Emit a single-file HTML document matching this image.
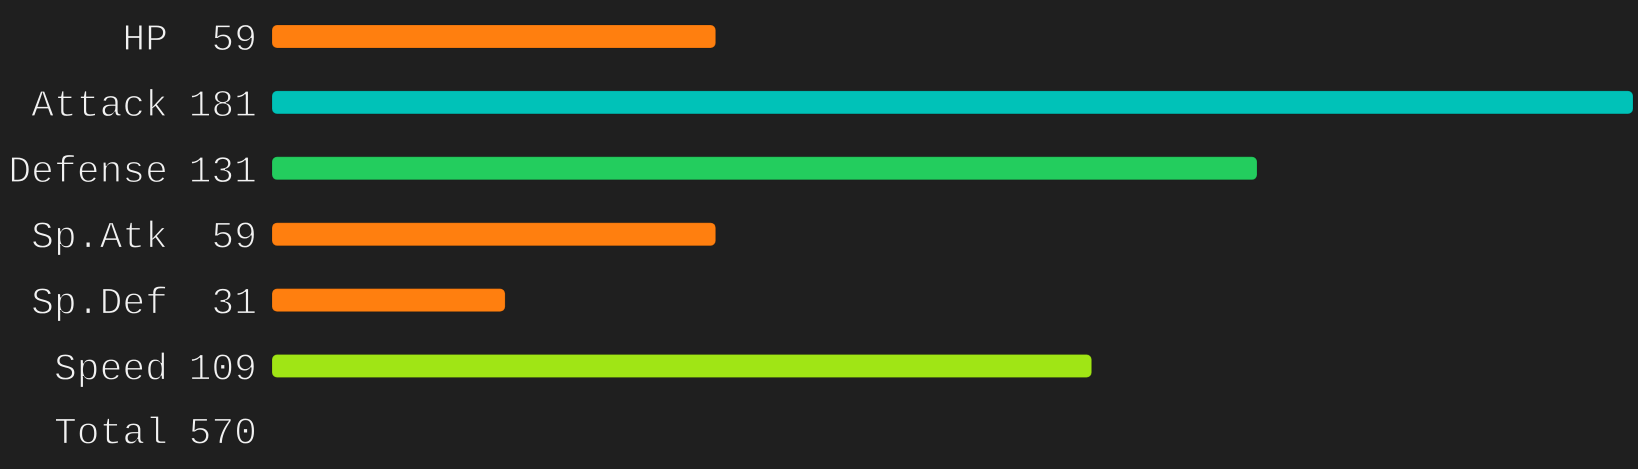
<!DOCTYPE html>
<html><head><meta charset="utf-8"><style>
html,body{margin:0;padding:0;background:#1f1f1f;}
svg{display:block;}
text{font-family:"Liberation Mono",monospace;font-size:38px;fill:#f2f2f2;stroke:#1f1f1f;stroke-width:1.2px;}
</style></head><body>
<svg id="chart" width="1638" height="469" viewBox="0 0 1638 469">
<rect width="1638" height="469" fill="#1f1f1f"/>
</svg>
<script>
const categories=["HP","Attack","Defense","Sp.Atk","Sp.Def","Speed"];
const values=[59,181,131,59,31,109];
const colors=["#ff7f0f","#00c2b8","#23cd5e","#ff7f0f","#ff7f0f","#a0e515"];
const totalLabel="Total";
const totalValue=570;
const svg=document.getElementById('chart');
const NS='http://www.w3.org/2000/svg';
const x0=272, scale=(1633-272)/181;
function xs(v){return v*scale;}
function yc(i){return 36.5+i*65.9;}
function mk(tag,attrs){const e=document.createElementNS(NS,tag);for(const k in attrs)e.setAttribute(k,attrs[k]);svg.appendChild(e);return e;}
categories.forEach((c,i)=>{
  const y=yc(i);
  const l=mk('text',{x:168,y:y+13.5,'text-anchor':'end'});l.textContent=c;
  
  
  const v=mk('text',{x:257,y:y+13.5,'text-anchor':'end'});v.textContent=values[i];
  
  
  const b=mk('rect',{x:x0,y:y-11.5,width:xs(values[i]),height:23,rx:5,fill:colors[i],stroke:'rgba(0,0,0,0.15)','stroke-width':1});
  
  
});
const ty=yc(6)-2;
const tl=mk('text',{x:168,y:ty+13.5,'text-anchor':'end'});tl.textContent=totalLabel;


const tv=mk('text',{x:257,y:ty+13.5,'text-anchor':'end'});tv.textContent=totalValue;


</script>
</body></html>
